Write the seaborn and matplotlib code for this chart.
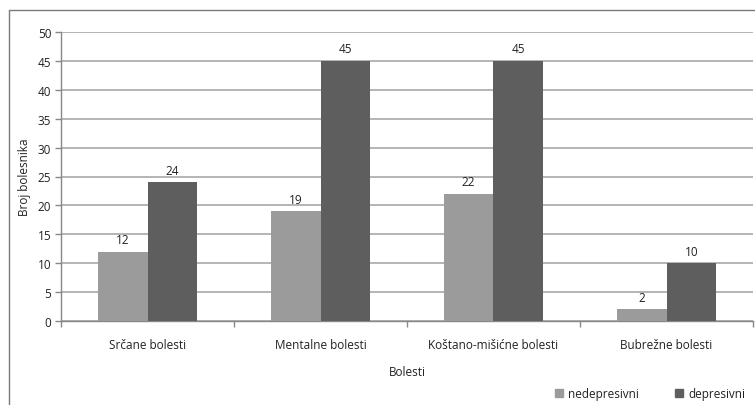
import matplotlib
matplotlib.use("Agg")
import matplotlib.pyplot as plt
import seaborn as sns
import pandas as pd
from matplotlib.lines import Line2D

categories = ["Srčane bolesti", "Mentalne bolesti", "Koštano-mišićne bolesti", "Bubrežne bolesti"]
series_names = ["nedepresivni", "depresivni"]
nedepresivni = [12, 19, 22, 2]
depresivni = [24, 45, 45, 10]
y_ticks = [0, 5, 10, 15, 20, 25, 30, 35, 40, 45, 50]

colors = ["#9b9b9b", "#5e5e5e"]
W, H = 755, 406

df = pd.DataFrame({
    "Bolesti": categories * 2,
    "Broj": nedepresivni + depresivni,
    "Skupina": [series_names[0]] * len(categories) + [series_names[1]] * len(categories),
})

sns.set_style("white")
plt.rcParams["font.family"] = ["Open Sans", "DejaVu Sans"]

fig = plt.figure(figsize=(W / 100, H / 100), dpi=100)

ax = fig.add_axes([61 / W, 1 - 322 / H, 692 / W, 289 / H])

sns.barplot(data=df, x="Bolesti", y="Broj", hue="Skupina", hue_order=series_names,
            palette=colors, width=0.578, gap=0, saturation=1, errorbar=None,
            edgecolor="none", linewidth=0, ax=ax, legend=False, zorder=3)

for cont in ax.containers:
    ax.bar_label(cont, fmt="%d", padding=4, fontsize=8.5, color="#222222")

ax.set_ylim(0, 50)
ax.set_xlim(-0.5, len(categories) - 0.5)
ax.set_yticks(y_ticks)
ax.yaxis.grid(True, color="#a8a8a8", linewidth=1.2, zorder=0)
ax.set_axisbelow(True)
for s in ["top", "right"]:
    ax.spines[s].set_visible(False)
for s in ["left", "bottom"]:
    ax.spines[s].set_color("#888888")
    ax.spines[s].set_linewidth(1.0)

ax.tick_params(axis="y", which="major", left=True, length=4, width=1, color="#888888",
               labelsize=8.5, labelcolor="#222222", pad=3)
ax.tick_params(axis="x", which="major", bottom=False, labelsize=8.5, labelcolor="#222222", pad=9)
ax.set_xticks([i + 0.5 for i in range(-1, len(categories))], minor=True)
ax.tick_params(axis="x", which="minor", bottom=True, length=4, width=1, color="#888888")

ax.set_xlabel("Bolesti", fontsize=8.5, color="#222222", labelpad=10)
ax.set_ylabel("Broj bolesnika", fontsize=8.5, color="#222222", labelpad=5)

# outer chart frame, left and top edges
fx, fy = 8.5 / W, 1 - 10.5 / H
frame_kw = dict(transform=fig.transFigure, color="#7a7a7a", linewidth=1.0)
fig.add_artist(Line2D([fx, fx], [-0.02, fy], **frame_kw))
fig.add_artist(Line2D([fx, 1.0], [fy, fy], **frame_kw))

# legend entries, one per series
legend_x = [544 / W, 664 / W]
for name, c, lx in zip(series_names, colors, legend_x):
    h = Line2D([], [], marker="s", linestyle="none", markersize=5.5,
               markerfacecolor=c, markeredgecolor=c)
    fig.legend([h], [name], loc="center left", bbox_to_anchor=(lx, 1 - 395 / H),
               frameon=False, fontsize=8.5, handlelength=0.8, handletextpad=0.37,
               labelcolor="#222222")

fig.savefig("out.png", dpi=100)
